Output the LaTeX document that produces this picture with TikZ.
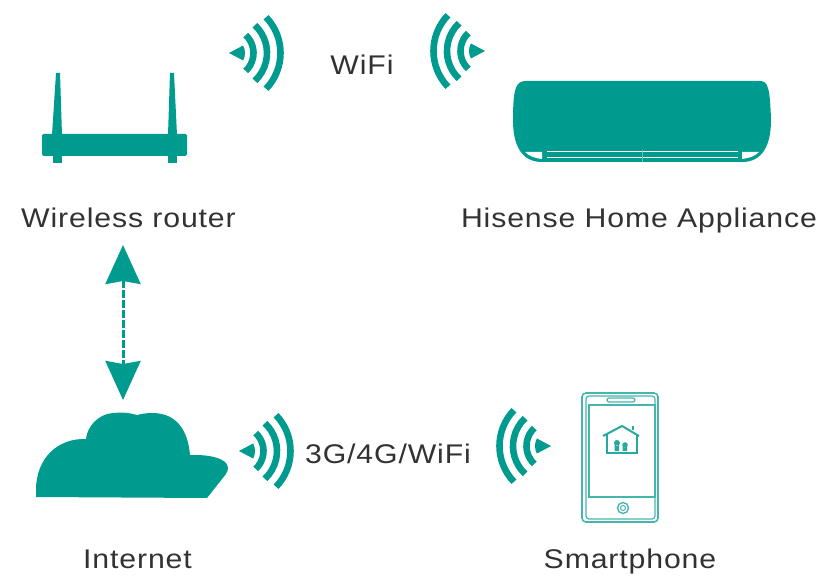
\documentclass[tikz,border=0pt]{standalone}
\usepackage{fontspec}
\setmainfont[LetterSpace=3.2,FakeStretch=1.12]{Liberation Sans}
\usetikzlibrary{arrows.meta}
\definecolor{Teal}{RGB}{0,155,143}
\definecolor{LightTeal}{RGB}{70,182,172}
\definecolor{TextGray}{RGB}{50,50,50}
\tikzset{
	wifi/.pic={
		\fill[Teal] (0,0) -- (-28:16) arc[start angle=-28, end angle=28, radius=16] -- cycle;
		\foreach \r/\a in {24.5/47, 38/47, 51.5/44}
			\draw[Teal, line width=6.6pt] (-\a:\r) arc[start angle=-\a, end angle=\a, radius=\r];
	}
}
\begin{document}
\begin{tikzpicture}[x=1pt, y=-1pt,
		every node/.style={text=TextGray, font=\fontsize{27}{32}\selectfont, inner sep=0pt, outer sep=0pt, anchor=base}
		]
		\useasboundingbox (0,0) rectangle (828,588);

		\node (WR) at (128.5,227.5) {Wireless router};
		\node (HA) at (639,228) {Hisense Home Appliance};
		\node (IN) at (137.5,568) {Internet};
		\node (SP) at (630,568) {Smartphone};
		\node (WF) at (362,75) {WiFi};
		\node (MB) at (388,463) {3G/4G/WiFi};

		\pic at (229,53) {wifi};
		\pic[rotate=180] at (485,51) {wifi};
		\pic at (239,451) {wifi};
		\pic[rotate=180] at (551,446) {wifi};

		% router
		\fill[Teal] (52,135) -- (56,73) -- (60,73) -- (62,135) -- cycle;
		\fill[Teal] (168,135) -- (170,73) -- (174,73) -- (177,135) -- cycle;
		\fill[Teal, rounded corners=1.5pt] (42,134) rectangle (187,156);
		\fill[Teal] (53,155) rectangle (62,163);
		\fill[Teal] (168,155) rectangle (177,163);

		% air conditioner
		\fill[Teal] (526,81) -- (760,81) .. controls (768,81) and (770,88) .. (771,120)
			.. controls (771,146) and (762,162) .. (742,162) -- (542,162)
			.. controls (522,162) and (513,146) .. (513,120)
			.. controls (513,88) and (516,81) .. (526,81) -- cycle;
		\fill[white] (525,152) -- (542,152) -- (542,159) .. controls (534,158) and (529,156) .. (525,152) -- cycle;
		\fill[white] (759,152) -- (742,152) -- (742,159) .. controls (750,158) and (755,156) .. (759,152) -- cycle;
		\draw[white, line width=1.5pt] (547,151.5) -- (738,151.5);
		\draw[white, line width=1.5pt] (547,157.5) -- (738,157.5);
		\draw[white!40!Teal, line width=.5pt] (642,150) -- (642,162);

		% cloud
		\fill[Teal] (36,497) -- (207,498) -- (226,474)
			.. controls (231,466) and (226,460) .. (214,457)
			.. controls (206,455) and (198,455) .. (190,455)
			.. controls (188,432) and (178,413) .. (152,413)
			.. controls (146,413) and (141,414) .. (137,415)
			.. controls (130,413) and (124,412) .. (113,413)
			.. controls (98,414) and (87,427) .. (86,439)
			.. controls (58,438) and (36,458) .. (36,490) -- cycle;

		\coordinate (UP) at (123,245);
		\coordinate (DN) at (123,400);
		\draw[Teal, line width=3pt, dash pattern=on 8pt off 2pt, {Stealth[length=39pt, width=35pt, inset=3pt]}-{Stealth[length=39pt, width=35pt, inset=3pt]}] (UP) -- (DN);

		% phone
		\draw[LightTeal, line width=1.6pt, rounded corners=4pt] (582,393) rectangle (658,522);
		\draw[LightTeal, line width=1.2pt, rounded corners=3pt] (586,396) rectangle (655,519);
		\draw[LightTeal, line width=1.4pt] (589,405) rectangle (655,497);
		\draw[LightTeal, line width=1.2pt, rounded corners=2pt] (607,398) rectangle (635,402);
		\draw[LightTeal, line width=1.4pt] (623,508) circle (5.5);
		\draw[LightTeal, line width=1pt] (623,508) circle (2.5);
		\draw[Teal!85!white, line width=2pt] (603,436) -- (622,426) -- (639,436);
		\draw[Teal!85!white, line width=2pt] (606.5,434) -- (606.5,452.5) -- (637,452.5) -- (637,434);
		\draw[Teal!85!white, line width=2pt] (633,430) -- (633,426);
		\fill[Teal!85!white] (617,443) circle (3) (625,445) circle (2.8) (614.5,445) rectangle (619,451) (622.5,447) rectangle (627,451);
	\end{tikzpicture}
\end{document}
